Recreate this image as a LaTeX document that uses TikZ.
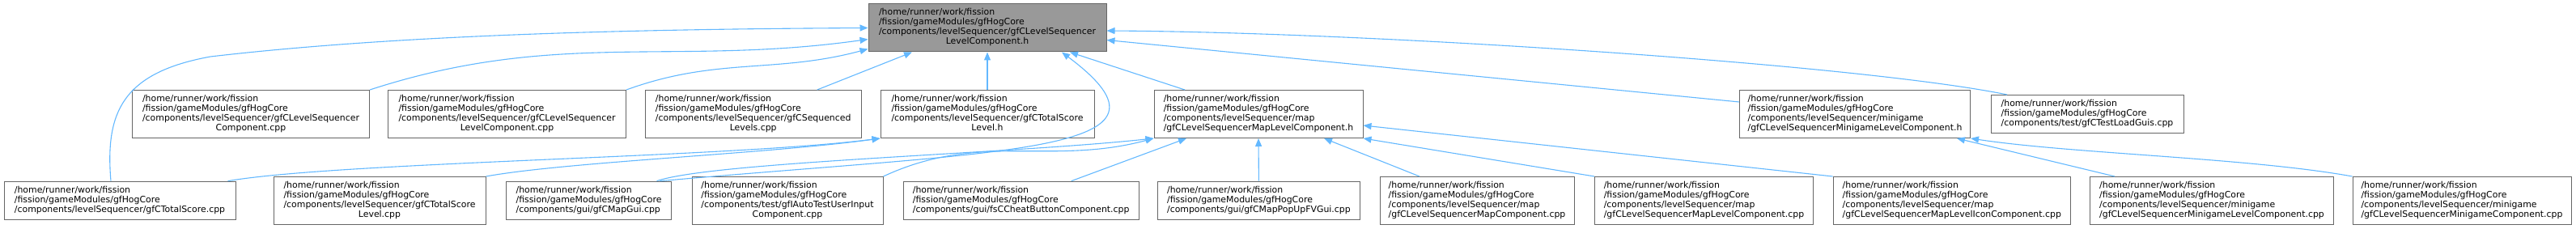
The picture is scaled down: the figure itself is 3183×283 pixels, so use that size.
\documentclass[tikz,border=0pt]{standalone}
\usepackage{fontspec}
\setmainfont{DejaVu Sans}
\usetikzlibrary{arrows.meta}

\definecolor{inclblue}{HTML}{63B8FF}
\definecolor{boxgrey}{HTML}{666666}
\definecolor{maingrey}{HTML}{999999}

\newcommand{\hm}{/home/runner/work/fission}
\newcommand{\gm}{/fission/gameModules/gfHogCore}
\newcommand{\threel}[3]{\begin{tabular}{@{}l@{}}#1\\#2\\#3\end{tabular}}
\newcommand{\fourl}[4]{\begin{tabular}{@{}l@{}}#1\\#2\\#3\\#4\end{tabular}}
\newcommand{\fourc}[4]{\begin{tabular}{@{}l@{}}#1\\#2\\#3\\\multicolumn{1}{@{}c@{}}{#4}\end{tabular}}

\tikzset{
  file/.style={rectangle, draw=boxgrey, fill=white, line width=1pt, inner sep=0pt,
    font=\fontsize{10.9}{12}\selectfont},
  tall/.style={minimum height=59pt},
  short/.style={minimum height=47pt},
  incl/.style={draw=inclblue, line width=1.1pt, -{Triangle[length=10pt,width=8pt]}}
}

\begin{document}
\begin{tikzpicture}[x=1pt, y=-1pt]
  \useasboundingbox (0,0) rectangle (3183,283);

  % Cabecera principal
  \node[file, tall, fill=maingrey, minimum width=294pt] (main) at (1220,34.5)
    {\fourc{\hm}{\gm}{/components/levelSequencer/gfCLevelSequencer}{LevelComponent.h}};

  % Segunda fila
  \node[file, tall, minimum width=293pt] (seqcpp) at (310,141)
    {\fourc{\hm}{\gm}{/components/levelSequencer/gfCLevelSequencer}{Component.cpp}};
  \node[file, tall, minimum width=294pt] (levcpp) at (626.5,141)
    {\fourc{\hm}{\gm}{/components/levelSequencer/gfCLevelSequencer}{LevelComponent.cpp}};
  \node[file, tall, minimum width=267pt] (seqlev) at (930.7,141)
    {\fourc{\hm}{\gm}{/components/levelSequencer/gfCSequenced}{Levels.cpp}};
  \node[file, tall, minimum width=264pt] (totlevh) at (1220,141)
    {\fourc{\hm}{\gm}{/components/levelSequencer/gfCTotalScore}{Level.h}};
  \node[file, tall, minimum width=258pt] (maplevh) at (1555,141)
    {\fourl{\hm}{\gm}{/components/levelSequencer/map}{/gfCLevelSequencerMapLevelComponent.h}};
  \node[file, tall, minimum width=285pt] (minilevh) at (2292,141)
    {\fourl{\hm}{\gm}{/components/levelSequencer/minigame}{/gfCLevelSequencerMinigameLevelComponent.h}};
  \node[file, short, minimum width=238pt] (loadguis) at (2579,141)
    {\threel{\hm}{\gm}{/components/test/gfCTestLoadGuis.cpp}};

  % Tercera fila
  \node[file, short, minimum width=286pt] (totcpp) at (148,247.7)
    {\threel{\hm}{\gm}{/components/levelSequencer/gfCTotalScore.cpp}};
  \node[file, tall, minimum width=262pt] (totlevcpp) at (469,248)
    {\fourc{\hm}{\gm}{/components/levelSequencer/gfCTotalScore}{Level.cpp}};
  \node[file, short, minimum width=204pt] (mapgui) at (727.5,247.7)
    {\threel{\hm}{\gm}{/components/gui/gfCMapGui.cpp}};
  \node[file, tall, minimum width=236pt] (autotest) at (973,248)
    {\fourc{\hm}{\gm}{/components/test/gfIAutoTestUserInput}{Component.cpp}};
  \node[file, short, minimum width=291pt] (cheat) at (1261.7,247.7)
    {\threel{\hm}{\gm}{/components/gui/fsCCheatButtonComponent.cpp}};
  \node[file, short, minimum width=250pt] (popup) at (1555.4,247.7)
    {\threel{\hm}{\gm}{/components/gui/gfCMapPopUpFVGui.cpp}};
  \node[file, tall, minimum width=240pt] (mapcpp) at (1825,248)
    {\fourl{\hm}{\gm}{/components/levelSequencer/map}{/gfCLevelSequencerMapComponent.cpp}};
  \node[file, tall, minimum width=270pt] (maplevcpp) at (2105.5,248)
    {\fourl{\hm}{\gm}{/components/levelSequencer/map}{/gfCLevelSequencerMapLevelComponent.cpp}};
  \node[file, tall, minimum width=293.5pt] (mapicon) at (2411.8,248)
    {\fourl{\hm}{\gm}{/components/levelSequencer/map}{/gfCLevelSequencerMapLevelIconComponent.cpp}};
  \node[file, tall, minimum width=300.7pt] (minilevcpp) at (2733,248)
    {\fourl{\hm}{\gm}{/components/levelSequencer/minigame}{/gfCLevelSequencerMinigameLevelComponent.cpp}};
  \node[file, tall, minimum width=270pt] (minicpp) at (3042,248)
    {\fourl{\hm}{\gm}{/components/levelSequencer/minigame}{/gfCLevelSequencerMinigameComponent.cpp}};

  % Aristas hacia la cabecera principal
  \draw[incl] ([xshift=-11pt]totcpp.north) .. controls (130,140) and (150,90) .. (260,70)
    .. controls (500,42) and (800,36) .. (main.west);
  \draw[incl] (seqcpp.north east) to[out=18, in=188] ([yshift=-14pt]main.west);
  \draw[incl] (levcpp.north east) to[out=20, in=195] ([yshift=-26pt]main.west);
  \draw[incl] ([xshift=79pt]seqlev.north) -- ([xshift=-93pt]main.south);
  \draw[incl] (totlevh.north) -- (main.south);
  \draw[incl] ([xshift=-91pt]maplevh.north) -- ([xshift=102pt]main.south);
  \draw[incl] ([xshift=88pt]mapgui.north) .. controls (1250,185) and (1480,190) .. ([xshift=92pt]main.south);
  \draw[incl] ([yshift=15pt]minilevh.west) -- ([yshift=-15pt]main.east);
  \draw[incl] ([xshift=-99pt]loadguis.north) .. controls (2300,80) and (1700,40) .. ([yshift=-3.5pt]main.east);

  % Aristas hacia gfCTotalScoreLevel.h
  \draw[incl] ([xshift=-10pt]totcpp.north east) .. controls (420,200) and (900,195) .. (totlevh.south west);
  \draw[incl] (totlevcpp.north east) .. controls (700,200) and (950,190) .. (totlevh.south west);

  % Aristas hacia gfCLevelSequencerMapLevelComponent.h
  \draw[incl] ([xshift=84pt]mapgui.north) .. controls (880,200) and (1250,190) .. (maplevh.south west);
  \draw[incl] (autotest.north east) to[out=25, in=195] (maplevh.south west);
  \draw[incl] ([xshift=62pt]cheat.north) -- ([xshift=-89pt]maplevh.south);
  \draw[incl] (popup.north) -- (maplevh.south);
  \draw[incl] ([xshift=-71pt]mapcpp.north) -- ([xshift=81pt]maplevh.south);
  \draw[incl] (maplevcpp.north west) -- (maplevh.south east);
  \draw[incl] (mapicon.north west) -- ([yshift=-14pt]maplevh.east);

  % Aristas hacia gfCLevelSequencerMinigameLevelComponent.h
  \draw[incl] ([xshift=-120pt]minilevcpp.north) -- ([xshift=126pt]minilevh.south);
  \draw[incl] (minicpp.north west) .. controls (2780,195) and (2560,190) .. (minilevh.south east);
\end{tikzpicture}
\end{document}
